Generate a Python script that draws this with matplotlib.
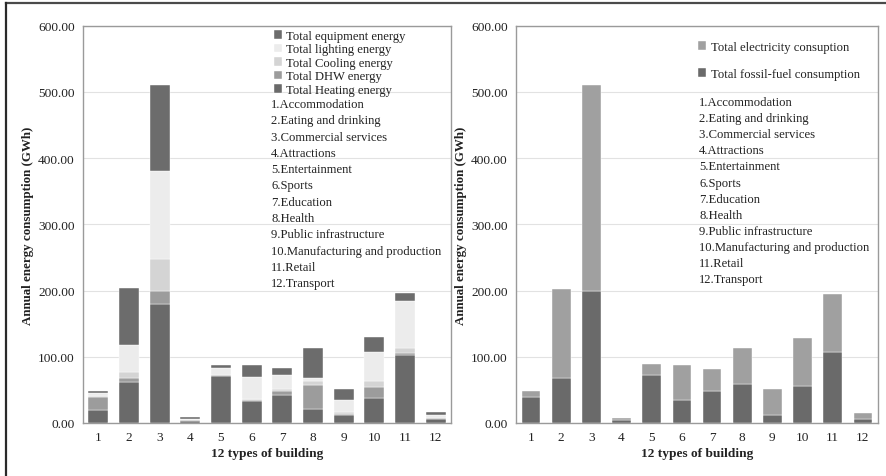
import matplotlib
matplotlib.use("Agg")
import matplotlib.pyplot as plt
from matplotlib.lines import Line2D
import numpy as np

plt.rcParams['font.family'] = ['Liberation Serif', 'DejaVu Serif']

building_ids = [str(i) for i in range(1, 13)]
building_names = [
    "1.Accommodation", "2.Eating and drinking", "3.Commercial services",
    "4.Attractions", "5.Entertainment", "6.Sports", "7.Education",
    "8.Health", "9.Public infrastructure",
    "10.Manufacturing and production", "11.Retail", "12.Transport",
]

# End-use breakdown (GWh)
heating = [20, 61.5, 179, 3, 71, 33, 43, 21, 12, 38, 103, 6]
dhw = [19, 6, 20, 1, 1, 1, 5, 37, 1, 17, 3, 1]
cooling = [2, 9, 49, 0.5, 1, 2, 3, 5, 3, 9, 8, 1]
lighting = [4, 41, 133, 2, 10, 33, 21, 5, 19, 43, 70, 4]
equipment = [4, 86, 130, 2, 5, 18, 11, 46, 17, 23, 12, 4]

# Carrier breakdown (GWh)
fossil = [39, 68, 199, 4, 72, 34, 48, 58.5, 12.5, 56.5, 106.5, 6.5]
electricity = [9, 135, 311, 3.5, 16.5, 53.5, 34, 54.5, 39, 72.5, 88.5, 9]

yticks = [0, 100, 200, 300, 400, 500, 600]

TXT = "#222222"
FS = 9.6
fig = plt.figure(figsize=(8.87, 4.77), dpi=100)

ax1 = fig.add_axes([83 / 887, 53 / 477, 368 / 887, 397.3 / 477])
ax2 = fig.add_axes([516 / 887, 53 / 477, 362 / 887, 397.3 / 477])

x = np.arange(1, 13)

# Left: stacked end uses
stack = [
    ("Total Heating energy", heating, "#6a6a6a"),
    ("Total DHW energy", dhw, "#9c9c9c"),
    ("Total Cooling energy", cooling, "#d4d4d4"),
    ("Total lighting energy", lighting, "#ececec"),
    ("Total equipment energy", equipment, "#6c6c6c"),
]
bottom = np.zeros(12)
handles1 = []
for label, vals, col in stack:
    b = ax1.bar(x, vals, 0.65, bottom=bottom, color=col, label=label,
                edgecolor="white", linewidth=0.3, zorder=3)
    handles1.append(b)
    bottom += np.array(vals)

# Right: stacked carriers
bf = ax2.bar(x, fossil, 0.62, color="#6a6a6a", label="Total fossil-fuel consumption",
             edgecolor="white", linewidth=0.3, zorder=3)
be = ax2.bar(x, electricity, 0.62, bottom=fossil, color="#a0a0a0",
             label="Total electricity consuption",
             edgecolor="white", linewidth=0.3, zorder=3)

for ax in (ax1, ax2):
    ax.set_xlim(0.5, 12.5)
    ax.set_ylim(0, 600)
    ax.set_yticks(yticks)
    ax.set_yticklabels([f"{v:.2f}" for v in yticks], fontsize=FS, color=TXT)
    ax.set_xticks(x)
    ax.set_xticklabels(building_ids, fontsize=FS, color=TXT)
    ax.tick_params(length=0, pad=6)
    ax.grid(axis="y", color="#e2e2e2", linewidth=0.8, zorder=0)
    ax.set_axisbelow(True)
    for s in ax.spines.values():
        s.set_color("#9a9a9a")
        s.set_linewidth(1.0)
    ax.set_xlabel("12 types of building", fontsize=FS, fontweight="bold",
                  color=TXT, labelpad=3)
    ax.set_ylabel("Annual energy consumption (GWh)", fontsize=9.4,
                  fontweight="bold", color=TXT, labelpad=3)

leg1 = ax1.legend(handles=handles1[::-1], loc="upper left",
                  bbox_to_anchor=(0.515, 0.993), frameon=False, fontsize=9.1,
                  handlelength=0.65, handleheight=0.65, handletextpad=0.35,
                  labelspacing=0.12, borderpad=0.1, borderaxespad=0)
for t in leg1.get_texts():
    t.set_color(TXT)

leg2 = ax2.legend(handles=[be, bf], loc="upper left",
                  bbox_to_anchor=(0.5, 0.965), frameon=False, fontsize=9.1,
                  handlelength=0.65, handleheight=0.65, handletextpad=0.35,
                  labelspacing=1.2, borderpad=0.1, borderaxespad=0)
for t in leg2.get_texts():
    t.set_color(TXT)

def name_list(ax, x0, y0, y1):
    ys = np.linspace(y0, y1, len(building_names))
    for name, yy in zip(building_names, ys):
        ax.text(x0, yy, name, transform=ax.transAxes, fontsize=9.1,
                color=TXT, va="center", ha="left")

name_list(ax1, 0.511, 0.803, 0.352)
name_list(ax2, 0.506, 0.808, 0.362)

# Outer frame (top and left edges)
fig.add_artist(Line2D([6 / 887, 1.0], [1 - 4 / 477, 1 - 4 / 477],
                      transform=fig.transFigure, color="#4a4a4a", linewidth=1.6))
fig.add_artist(Line2D([6 / 887, 6 / 887], [0, 1 - 4 / 477],
                      transform=fig.transFigure, color="#2a2a2a", linewidth=1.6))

fig.savefig("out.png", dpi=100)
